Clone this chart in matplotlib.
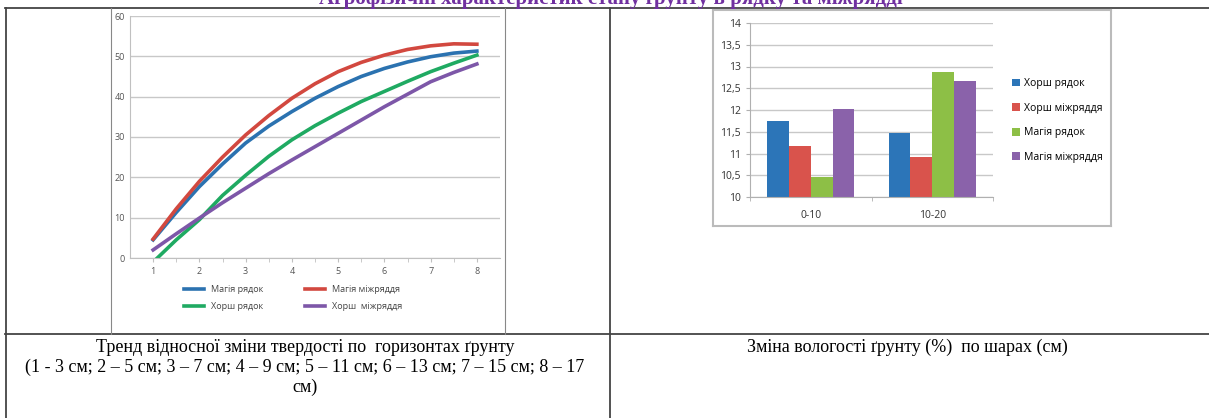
import matplotlib
matplotlib.use('Agg')
import matplotlib.pyplot as plt
from matplotlib.lines import Line2D
import numpy as np

plt.rcParams['font.family'] = ['Open Sans', 'DejaVu Sans']

W, H = 1209, 418

# --- дані лівого графіка (тренди твердості) ---
x_trend = [1, 1.5, 2, 2.5, 3, 3.5, 4, 4.5, 5, 5.5, 6, 6.5, 7, 7.5, 8]
magia_row = [4.5, 11.3, 17.7, 23.3, 28.5, 32.7, 36.3, 39.6, 42.5, 45.0, 47.0, 48.6, 49.9, 50.8, 51.3]
magia_inter = [4.7, 12.2, 19.0, 25.0, 30.5, 35.3, 39.6, 43.2, 46.2, 48.5, 50.3, 51.7, 52.6, 53.1, 53.0]
horsh_row = [-1.0, 4.5, 9.5, 15.5, 20.5, 25.2, 29.3, 32.8, 35.9, 38.8, 41.3, 43.8, 46.2, 48.3, 50.3]
horsh_inter = [2.0, 6.0, 9.9, 13.7, 17.3, 20.9, 24.3, 27.6, 30.9, 34.2, 37.5, 40.6, 43.7, 46.0, 48.1]
x_ticks = [1, 2, 3, 4, 5, 6, 7, 8]

# --- дані правого графіка (вологість) ---
layers = ['0-10', '10-20']
bar_names = ['Хорш рядок', 'Хорш міжряддя', 'Магія рядок', 'Магія міжряддя']
bar_values = [[11.75, 11.47], [11.18, 10.93], [10.47, 12.87], [12.03, 12.67]]
bar_colors = ['#2c75b8', '#d9534c', '#8dbf46', '#8a62aa']


def box(x0, y0, x1, y1):
    """перевести пікселі в частки фігури"""
    return [x0 / W, 1 - y1 / H, (x1 - x0) / W, (y1 - y0) / H]


def hline(fig, y, x0, x1, color='#444', lw=1.3):
    fig.add_artist(Line2D([x0 / W, x1 / W], [1 - y / H, 1 - y / H], color=color, lw=lw))


def vline(fig, x, y0, y1, color='#444', lw=1.3):
    fig.add_artist(Line2D([x / W, x / W], [1 - y0 / H, 1 - y1 / H], color=color, lw=lw))


fig = plt.figure(figsize=(W / 100, H / 100), dpi=100)
fig.patch.set_facecolor('white')

# таблиця
hline(fig, 8, 5, W)
hline(fig, 334, 5, W)
vline(fig, 6, 8, H)
vline(fig, 610, 8, H)

# заголовок (обрізаний зверху, як у вихідному документі)
fig.text(611 / W, 1 + 1 / H, 'Агрофізичні характеристик стану ґрунту в рядку та міжрядді',
         ha='center', va='center', fontsize=15, weight='bold', color='#7030a0',
         family='Liberation Serif')

# рамки картинок
vline(fig, 111, 8, 334, color='#888', lw=0.8)
vline(fig, 505, 8, 334, color='#888', lw=0.8)
hline(fig, 10, 713, 1111, color='#bbb', lw=1.5)
hline(fig, 226, 713, 1111, color='#bbb', lw=1.5)
vline(fig, 713, 10, 226, color='#bbb', lw=1.5)
vline(fig, 1111, 10, 226, color='#bbb', lw=1.5)

# ---- лівий графік ----
ax1 = fig.add_axes(box(130, 16, 500, 258))
ax1.plot(x_trend, magia_row, color='#2b72b0', lw=2.6, label='Магія рядок')
ax1.plot(x_trend, horsh_row, color='#1faa62', lw=2.6, label='Хорш рядок')
ax1.plot(x_trend, magia_inter, color='#d2483f', lw=2.6, label='Магія міжряддя')
ax1.plot(x_trend, horsh_inter, color='#7d57a8', lw=2.6, label='Хорш  міжряддя')
ax1.set_xlim(0.5, 8.5)
ax1.set_ylim(0, 60)
ax1.set_yticks(range(0, 61, 10))
ax1.set_xticks(x_ticks)
ax1.set_xticks(np.arange(1.5, 8.5, 1), minor=True)
ax1.grid(axis='y', color='#c8c8c8', lw=1)
ax1.set_axisbelow(True)
for s in ['top', 'right']:
    ax1.spines[s].set_visible(False)
ax1.spines['left'].set_color('#c0c0c0')
ax1.spines['bottom'].set_color('#c0c0c0')
ax1.tick_params(axis='both', labelsize=6.5, colors='#555', length=3, color='#c0c0c0')
ax1.tick_params(axis='x', which='minor', length=3, color='#c0c0c0')
ax1.tick_params(axis='y', length=0)
ax1.legend(ncol=2, loc='upper center', bbox_to_anchor=(0.44, -0.08), frameon=False,
           fontsize=6.5, handlelength=2.3, columnspacing=4.6, labelspacing=0.8,
           handletextpad=0.7, labelcolor='#444')

# ---- правий графік ----
ax2 = fig.add_axes(box(750, 23, 993, 197))
xpos = np.arange(len(layers))
bw = 0.18
for i, (name, vals) in enumerate(zip(bar_names, bar_values)):
    ax2.bar(xpos + (i - 1.5) * bw, [v - 10 for v in vals], bw, bottom=10,
            color=bar_colors[i], label=name)
ax2.set_xlim(-0.5, 1.5)
ax2.set_ylim(10, 14)
yt = np.arange(10, 14.01, 0.5)
ax2.set_yticks(yt)
ax2.set_yticklabels([('%g' % v).replace('.', ',') for v in yt])
ax2.set_xticks(xpos)
ax2.set_xticklabels(layers)
ax2.set_xticks([-0.5, 0.5, 1.5], minor=True)
ax2.grid(axis='y', color='#c8c8c8', lw=1)
ax2.set_axisbelow(True)
for s in ['top', 'right']:
    ax2.spines[s].set_visible(False)
ax2.spines['left'].set_color('#b0b0b0')
ax2.spines['bottom'].set_color('#b0b0b0')
ax2.tick_params(axis='both', labelsize=7.5, colors='#333', length=0)
ax2.tick_params(axis='x', pad=9)
ax2.tick_params(axis='x', which='minor', length=3, color='#b0b0b0')
ax2.tick_params(axis='y', length=3, color='#b0b0b0')
ax2.legend(loc='center left', bbox_to_anchor=(1.04, 0.44), frameon=False, fontsize=7.5,
           handlelength=0.8, handleheight=0.8, handletextpad=0.3, labelspacing=1.3)

# підписи
fig.text(305 / W, 1 - 339 / H,
         'Тренд відносної зміни твердості по  горизонтах ґрунту\n'
         '(1 - 3 см; 2 – 5 см; 3 – 7 см; 4 – 9 см; 5 – 11 см; 6 – 13 см; 7 – 15 см; 8 – 17\nсм)',
         ha='center', va='top', fontsize=13, family='Liberation Serif', linespacing=1.22)
fig.text(907 / W, 1 - 339 / H, 'Зміна вологості ґрунту (%)  по шарах (см)',
         ha='center', va='top', fontsize=13, family='Liberation Serif')

fig.savefig('out.png', dpi=100, facecolor='white')
